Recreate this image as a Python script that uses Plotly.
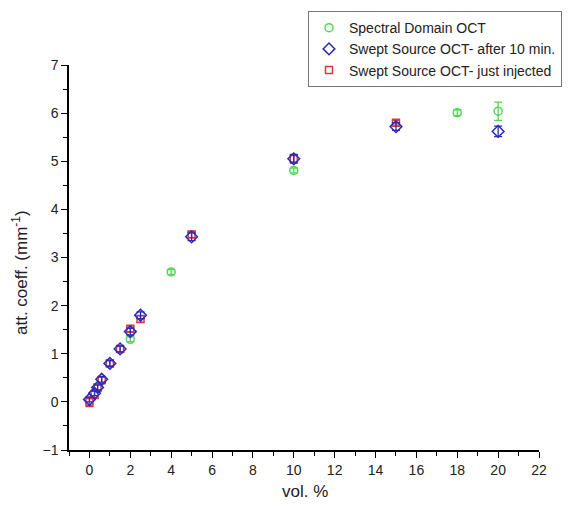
import plotly.graph_objects as go

# Spectral Domain OCT
sd_x = [2, 4, 10, 18, 20]
sd_y = [1.30, 2.70, 4.81, 6.01, 6.04]
sd_err = [0.05, 0.05, 0.05, 0.06, 0.19]

# Swept Source OCT - after 10 min.
ss10_x = [0, 0.25, 0.4, 0.6, 1, 1.5, 2, 2.5, 5, 10, 15, 20]
ss10_y = [0.05, 0.18, 0.30, 0.47, 0.80, 1.10, 1.46, 1.80, 3.43, 5.05, 5.72, 5.62]
ss10_err = [0.05, 0.05, 0.05, 0.06, 0.06, 0.06, 0.07, 0.07, 0.08, 0.09, 0.08, 0.11]

# Swept Source OCT - just injected
ssj_x = [0, 0.25, 0.4, 0.6, 1, 1.5, 2, 2.5, 5, 10, 15]
ssj_y = [0.00, 0.15, 0.30, 0.45, 0.80, 1.10, 1.52, 1.72, 3.48, 5.05, 5.80]
ssj_err = [0.10, 0.08, 0.07, 0.06, 0.06, 0.06, 0.06, 0.07, 0.06, 0.07, 0.05]

GREEN = "#55d655"
BLUE = "#2a2ab8"
RED = "#d83a3a"
FONT = "Liberation Sans, Arial, sans-serif"

def eb(arr, color):
    return dict(type="data", array=arr, visible=True, color=color, thickness=1.3, width=4)

fig = go.Figure()
fig.add_trace(go.Scatter(
    x=sd_x, y=sd_y, mode="markers", name="Spectral Domain OCT",
    marker=dict(symbol="circle-open", size=8, color=GREEN, line=dict(width=1.5, color=GREEN)),
    error_y=eb(sd_err, GREEN)))
fig.add_trace(go.Scatter(
    x=ssj_x, y=ssj_y, mode="markers", name="Swept Source OCT- just injected",
    marker=dict(symbol="square-open", size=7, color=RED, line=dict(width=1.5, color=RED)),
    error_y=eb(ssj_err, RED), showlegend=False, legendgroup="r"))
fig.add_trace(go.Scatter(
    x=ss10_x, y=ss10_y, mode="markers", name="Swept Source OCT- after 10 min.",
    marker=dict(symbol="diamond-open", size=9, color=BLUE, line=dict(width=1.5, color=BLUE)),
    error_y=eb(ss10_err, BLUE)))
# legend entry for red (kept in legend order)
fig.add_trace(go.Scatter(
    x=[None], y=[None], mode="markers", name="Swept Source OCT- just injected",
    marker=dict(symbol="square-open", size=7, color=RED, line=dict(width=1.5, color=RED)),
    legendgroup="r"))

axis_common = dict(
    showline=True, linecolor="black", linewidth=1.5, mirror=False,
    showgrid=False, zeroline=False,
    ticks="outside", ticklen=6, tickwidth=1.3, tickcolor="black",
    tickfont=dict(family=FONT, size=14, color="#222"),
)

fig.update_xaxes(
    range=[-1, 22], tickmode="linear", tick0=0, dtick=2,
    minor=dict(ticks="outside", ticklen=4, tickwidth=1.3, tickcolor="black", dtick=1, tick0=0),
    **axis_common)
fig.update_yaxes(
    range=[-1, 7], tickmode="linear", tick0=-1, dtick=1,
    minor=dict(ticks="outside", ticklen=4, tickwidth=1.3, tickcolor="black", dtick=0.5, tick0=0),
    **axis_common)

fig.add_annotation(
    text="att. coeff. (mm<sup>-1</sup>)", textangle=-90,
    xref="paper", yref="paper", x=-0.104, y=0.46, xanchor="center", yanchor="middle",
    showarrow=False, font=dict(family=FONT, size=17, color="#222"))
fig.add_annotation(
    text="vol. %",
    xref="paper", yref="paper", x=0.502, y=-0.1065, xanchor="center", yanchor="middle",
    showarrow=False, font=dict(family=FONT, size=17, color="#222"))

fig.update_layout(
    width=588, height=509,
    margin=dict(l=61, r=57, t=57, b=67, autoexpand=False),
    plot_bgcolor="white", paper_bgcolor="white",
    legend=dict(
        x=0.5085, y=1.14, xanchor="left", yanchor="top",
        bgcolor="white", bordercolor="#777", borderwidth=1,
        font=dict(family=FONT, size=14, color="#222"),
        tracegroupgap=0,
    ),
)

fig.write_html("out.html")
